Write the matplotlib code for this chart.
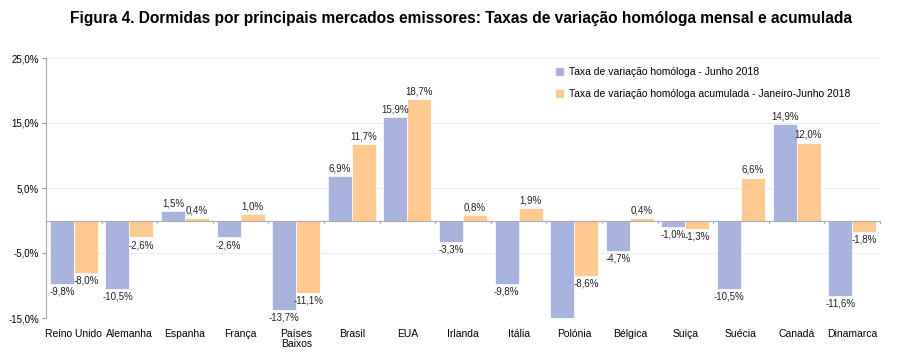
import matplotlib
matplotlib.use("Agg")
import matplotlib.pyplot as plt
import numpy as np
from matplotlib.patches import Patch

categories = ["Reino Unido", "Alemanha", "Espanha", "França", "Países\nBaixos", "Brasil", "EUA",
              "Irlanda", "Itália", "Polónia", "Bélgica", "Suiça", "Suécia", "Canadá", "Dinamarca"]
junho = [-9.8, -10.5, 1.5, -2.6, -13.7, 6.9, 15.9, -3.3, -9.8, -16.5, -4.7, -1.0, -10.5, 14.9, -11.6]
acumulada = [-8.0, -2.6, 0.4, 1.0, -11.1, 11.7, 18.7, 0.8, 1.9, -8.6, 0.4, -1.3, 6.6, 12.0, -1.8]
yticks = [-15, -5, 5, 15, 25]
series_names = ["Taxa de variação homóloga - Junho 2018",
                "Taxa de variação homóloga acumulada - Janeiro-Junho 2018"]

c_blue = "#A9B4DE"
c_orange = "#FFC992"

plt.rcParams['font.family'] = ['Liberation Sans', 'DejaVu Sans']

fig = plt.figure(figsize=(9, 3.58), dpi=100)
ax = fig.add_axes([46/900, 1-318/358, (880-46)/900, (318-58)/358])

x = np.arange(len(categories))
w = 0.43
ax.bar(x - w/2, junho, w, color=c_blue, edgecolor="white", linewidth=0.5, zorder=2)
ax.bar(x + w/2, acumulada, w, color=c_orange, edgecolor="white", linewidth=0.5, zorder=2)

ymin, ymax = -15, 25
ax.set_ylim(ymin, ymax)
ax.set_xlim(-0.5, len(categories) - 0.5)

def fmt(v):
    return f"{v:.1f}%".replace(".", ",")

for xs, vals in ((x - w/2, junho), (x + w/2, acumulada)):
    for xi, v in zip(xs, vals):
        if v < ymin or v > ymax:
            continue
        if v >= 0:
            ax.text(xi, v + 0.4, fmt(v), ha="center", va="bottom", fontsize=7, color="#222222")
        else:
            ax.text(xi, v - 0.4, fmt(v), ha="center", va="top", fontsize=7, color="#222222")

ax.set_yticks(yticks)
ax.set_yticklabels([fmt(t) for t in yticks], fontsize=7)
ax.set_xticks(x)
ax.set_xticklabels(categories, fontsize=7.5, linespacing=1.0)
ax.tick_params(axis="x", length=0, pad=8)
ax.tick_params(axis="y", length=3, color="#999999", pad=2)

ax.grid(axis="y", color="#EEEEEE", linewidth=0.8, zorder=0)
for s in ["top", "right", "bottom"]:
    ax.spines[s].set_visible(False)
ax.spines["left"].set_color("#AAAAAA")
ax.axhline(0, color="#AAAAAA", linewidth=0.8, zorder=3)
for b in np.arange(-0.5, len(categories)):
    ax.plot([b, b], [0, -0.35], color="#AAAAAA", linewidth=0.8, zorder=3, clip_on=False)

handles = [Patch(color=c_blue), Patch(color=c_orange)]
leg = ax.legend(handles, series_names, loc="upper left", bbox_to_anchor=(0.6, 1.0),
                frameon=False, fontsize=7.5, handlelength=0.7, handleheight=0.7,
                handletextpad=0.6, labelspacing=1.1)

fig.text(461/900, 1-18/358, "Figura 4. Dormidas por principais mercados emissores: Taxas de variação homóloga mensal e acumulada",
         ha="center", va="center", fontsize=11.2, fontweight="bold", family=['Liberation Sans', 'DejaVu Sans'])

fig.savefig("out.png", dpi=100)
